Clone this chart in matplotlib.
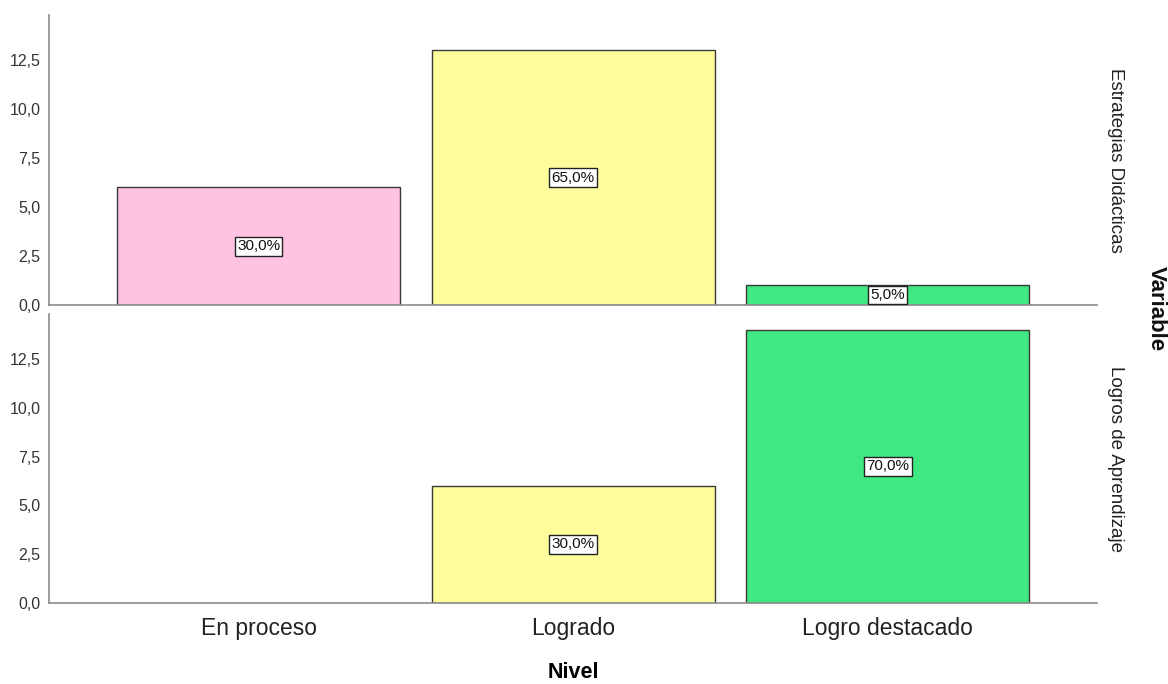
import matplotlib
matplotlib.use("Agg")
import matplotlib.pyplot as plt

plt.rcParams['font.family'] = ['Liberation Sans', 'DejaVu Sans']

niveles = ["En proceso", "Logrado", "Logro destacado"]
variables = ["Estrategias Didácticas", "Logros de Aprendizaje"]
conteo_estrategias = [6, 13, 1]
conteo_logros = [0, 6, 14]
porcentaje_estrategias = ["30,0%", "65,0%", "5,0%"]
porcentaje_logros = ["", "30,0%", "70,0%"]
y_ticks = [0, 2.5, 5, 7.5, 10, 12.5]
y_tick_labels = ["0,0", "2,5", "5,0", "7,5", "10,0", "12,5"]

colores = ["#FFC2E0", "#FFFD9B", "#40E882"]
spine_color = "#8C8C8C"

fig = plt.figure(figsize=(11.68, 6.84), dpi=100)
left, right = 49 / 1168, 1097 / 1168
ax_top = fig.add_axes([left, 1 - 305 / 684, right - left, (305 - 15) / 684])
ax_bot = fig.add_axes([left, 1 - 603 / 684, right - left, (603 - 314) / 684])

paneles = [
    (ax_top, conteo_estrategias, porcentaje_estrategias, variables[0]),
    (ax_bot, conteo_logros, porcentaje_logros, variables[1]),
]

x = list(range(len(niveles)))
for ax, valores, etiquetas, nombre in paneles:
    for i, (v, et) in enumerate(zip(valores, etiquetas)):
        if v > 0:
            ax.bar(i, v, width=0.9, color=colores[i], edgecolor="#3A3A3A",
                   linewidth=1.0, zorder=2)
            ax.text(i, v / 2, et, ha="center", va="center", fontsize=11,
                    color="#111111", zorder=3,
                    bbox=dict(boxstyle="square,pad=0.15", facecolor="white",
                              edgecolor="#222222", linewidth=1.0))
    ax.set_xlim(-0.666, 2.665)
    ax.set_ylim(0, 14.8)
    ax.set_yticks(y_ticks)
    ax.set_yticklabels(y_tick_labels, fontsize=11.5, color="#333333")
    ax.tick_params(axis="both", length=0)
    ax.tick_params(axis="y", pad=6)
    for s in ["top", "right"]:
        ax.spines[s].set_visible(False)
    for s in ["left", "bottom"]:
        ax.spines[s].set_color(spine_color)
        ax.spines[s].set_linewidth(1.2)
    ax.text(1.0 + 10 / 1048, 0.5, nombre, transform=ax.transAxes, rotation=-90,
            ha="left", va="center", fontsize=13.5, color="#222222")

ax_top.set_xticks(x)
ax_top.set_xticklabels([])
ax_bot.set_xticks(x)
ax_bot.set_xticklabels(niveles, fontsize=16.5, color="#222222")
ax_bot.tick_params(axis="x", pad=10)
ax_bot.set_xlabel("Nivel", fontsize=15.5, fontweight="bold", labelpad=16)

fig.text(1156 / 1168, 1 - 309 / 684, "Variable", rotation=-90, ha="center",
         va="center", fontsize=16, fontweight="bold", color="#111111")

fig.savefig("out.png", dpi=100)
